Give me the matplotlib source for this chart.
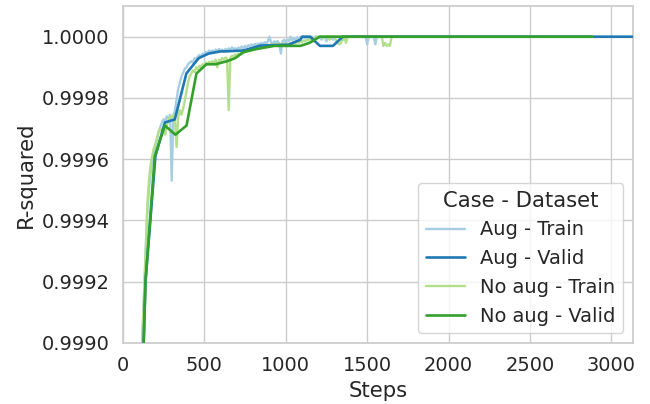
import numpy as np
import matplotlib
matplotlib.use("Agg")
import matplotlib.pyplot as plt
import seaborn as sns
from matplotlib.ticker import FormatStrFormatter

# training R-squared, logged every 10 steps starting at step 110
aug_train = [
    0.998800, 0.999030, 0.999160, 0.999300, 0.999420, 0.999500, 0.999550, 0.999600, 0.999620, 0.999645,
    0.999665, 0.999690, 0.999705, 0.999720, 0.999730, 0.999725, 0.999740, 0.999732, 0.999745, 0.999530,
    0.999740, 0.999760, 0.999795, 0.999830, 0.999850, 0.999870, 0.999882, 0.999895, 0.999900, 0.999910,
    0.999915, 0.999920, 0.999915, 0.999930, 0.999925, 0.999935, 0.999940, 0.999935, 0.999945, 0.999940,
    0.999950, 0.999945, 0.999955, 0.999950, 0.999955, 0.999948, 0.999958, 0.999952, 0.999960, 0.999955,
    0.999958, 0.999952, 0.999960, 0.999955, 0.999962, 0.999958, 0.999965, 0.999960, 0.999962, 0.999958,
    0.999965, 0.999962, 0.999968, 0.999960, 0.999970, 0.999965, 0.999972, 0.999968, 0.999975, 0.999970,
    0.999976, 0.999972, 0.999978, 0.999974, 0.999980, 0.999975, 0.999982, 0.999978, 0.999985, 1.000000,
    0.999982, 0.999978, 0.999985, 0.999980, 0.999986, 0.999978, 0.999945, 0.999985, 0.999990, 0.999982,
    0.999990, 0.999986, 1.000000, 0.999988, 0.999995, 0.999990, 0.999998, 0.999992, 1.000000, 0.999996,
    1.000000, 0.999995, 1.000000, 0.999992, 1.000000, 1.000000, 0.999985, 1.000000, 1.000000, 1.000000,
    1.000000, 0.999990, 1.000000, 1.000000, 0.999985, 1.000000, 1.000000, 1.000000, 0.999990, 1.000000,
    1.000000, 1.000000, 1.000000, 1.000000, 0.999988, 1.000000, 1.000000, 1.000000, 1.000000, 1.000000,
    1.000000, 1.000000, 1.000000, 1.000000, 1.000000, 1.000000, 1.000000, 1.000000, 1.000000, 0.999975,
    1.000000, 1.000000, 1.000000, 1.000000, 0.999975, 1.000000,
]
noaug_train = [
    0.998750, 0.999030, 0.999150, 0.999300, 0.999450, 0.999530, 0.999580, 0.999610, 0.999635, 0.999650,
    0.999670, 0.999690, 0.999700, 0.999690, 0.999705, 0.999680, 0.999710, 0.999725, 0.999740, 0.999735,
    0.999745, 0.999730, 0.999640, 0.999740, 0.999760, 0.999745, 0.999765, 0.999790, 0.999820, 0.999850,
    0.999870, 0.999880, 0.999890, 0.999885, 0.999900, 0.999895, 0.999905, 0.999900, 0.999910, 0.999905,
    0.999915, 0.999910, 0.999918, 0.999912, 0.999920, 0.999915, 0.999925, 0.999900, 0.999925, 0.999920,
    0.999930, 0.999925, 0.999932, 0.999928, 0.999760, 0.999930, 0.999938, 0.999935, 0.999942, 0.999938,
    0.999945, 0.999942, 0.999950, 0.999946, 0.999955, 0.999950, 0.999958, 0.999955, 0.999962, 0.999958,
    0.999965, 0.999962, 0.999968, 0.999965, 0.999970, 0.999966, 0.999972, 0.999968, 0.999974, 0.999970,
    0.999975, 0.999972, 0.999976, 0.999972, 0.999978, 0.999974, 0.999976, 0.999972, 0.999978, 0.999974,
    0.999978, 0.999975, 0.999980, 0.999976, 0.999982, 0.999978, 0.999984, 0.999980, 0.999986, 0.999982,
    0.999988, 0.999985, 0.999990, 0.999988, 0.999994, 0.999990, 0.999996, 0.999994, 1.000000, 0.999996,
    1.000000, 1.000000, 0.999995, 1.000000, 1.000000, 1.000000, 0.999990, 1.000000, 1.000000, 1.000000,
    0.999985, 0.999980, 0.999975, 0.999980, 1.000000, 1.000000, 0.999980, 1.000000, 1.000000, 1.000000,
    1.000000, 1.000000, 1.000000, 1.000000, 1.000000, 1.000000, 1.000000, 1.000000, 1.000000, 1.000000,
    1.000000, 1.000000, 1.000000, 1.000000, 1.000000, 1.000000, 1.000000, 1.000000, 1.000000, 0.999970,
    0.999980, 0.999970, 0.999975, 0.999970, 1.000000,
]
train_start, train_every = 110, 10

# validation R-squared
aug_valid_steps = [78, 139, 200, 258, 319, 390, 466, 527, 599, 630, 742, 845, 1018, 1090,
                   1101, 1150, 1210, 1290, 1350, 3133]
aug_valid = [0.99810, 0.99920, 0.99961, 0.99972, 0.99973, 0.99988, 0.99993, 0.999945,
             0.999952, 0.999952, 0.999955, 0.999971, 0.999974, 0.99999,
             1.0, 1.0, 0.99997, 0.99997, 1.0, 1.0]
noaug_valid_steps = [78, 139, 196, 258, 323, 391, 452, 513, 570, 640, 690, 742, 824, 930,
                     1029, 1090, 1147, 1209, 2883]
noaug_valid = [0.99810, 0.99920, 0.99961, 0.99971, 0.99968, 0.99971, 0.99988, 0.99991,
               0.99991, 0.99992, 0.99993, 0.99995, 0.99996, 0.99997,
               0.99997, 0.99997, 0.99998, 1.0, 1.0]

sns.set_theme(style="whitegrid", font_scale=1.27)
pal = sns.color_palette("Paired")

fig, ax = plt.subplots(figsize=(6.5, 4.04), dpi=100)
fig.subplots_adjust(left=0.189, right=0.974, bottom=0.151, top=0.985)

aug_steps = np.arange(len(aug_train)) * train_every + train_start
noaug_steps = np.arange(len(noaug_train)) * train_every + train_start

ax.plot(aug_steps, aug_train, color=pal[0], lw=1.7, label="Aug - Train", zorder=2)
ax.plot(aug_valid_steps, aug_valid, color=pal[1], lw=1.9, label="Aug - Valid", zorder=3)
ax.plot(noaug_steps, noaug_train, color=pal[2], lw=1.7, label="No aug - Train", zorder=2)
ax.plot(noaug_valid_steps, noaug_valid, color=pal[3], lw=1.9, label="No aug - Valid", zorder=4)

ax.set_xlim(0, 3133)
ax.set_ylim(0.9990, 1.0001)
ax.set_xticks([0, 500, 1000, 1500, 2000, 2500, 3000])
ax.set_yticks([0.9990, 0.9992, 0.9994, 0.9996, 0.9998, 1.0000])
ax.yaxis.set_major_formatter(FormatStrFormatter("%.4f"))
ax.set_xlabel("Steps")
ax.set_ylabel("R-squared")
ax.legend(title="Case - Dataset", loc="lower right")

fig.savefig("out.png", dpi=100)
